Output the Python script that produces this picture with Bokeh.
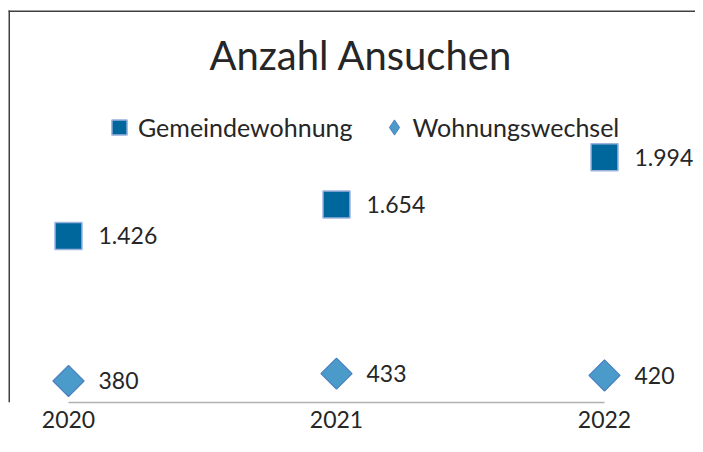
import numpy as np
from bokeh.plotting import figure
from bokeh.models import (ColumnDataSource, LabelSet, Label, Legend, LegendItem,
                          FixedTicker, Range1d)
from bokeh.core.properties import value
from bokeh.embed import file_html
from bokeh.resources import INLINE

# ---- data ----
years = [2020, 2021, 2022]
year_labels = ["2020", "2021", "2022"]
gemeindewohnung = [1426, 1654, 1994]
wohnungswechsel = [380, 433, 420]
series_names = ["Gemeindewohnung", "Wohnungswechsel"]
title_text = "Anzahl Ansuchen"

def de_fmt(v):
    return f"{v:,}".replace(",", ".")

FONT = "Lato"
TXT = "#262626"
W, H = 695, 436
FRAME_BOTTOM = 402            # canvas px of the axis line
PX_PER_UNIT = 0.1386
Y200_PX = 405.4               # canvas px where the value 200 would sit
Y_START = 200 + (Y200_PX - FRAME_BOTTOM) / PX_PER_UNIT
Y_END = 200 + Y200_PX / PX_PER_UNIT
X_SCALE = 268.0
X0 = 68
X_START = 2020 - X0 / X_SCALE
X_END = 2020 + (W - X0) / X_SCALE

def y_at(cy):
    return Y_START + (FRAME_BOTTOM - cy) / PX_PER_UNIT

def x_at(cx):
    return X_START + cx / X_SCALE

p = figure(width=W, height=H, output_backend="svg", toolbar_location=None,
           x_range=Range1d(X_START, X_END), y_range=Range1d(Y_START, Y_END),
           y_axis_location=None, min_border_left=0, min_border_right=0,
           min_border_top=0, min_border_bottom=H - FRAME_BOTTOM)
p.outline_line_color = None
p.xgrid.visible = False
p.ygrid.visible = False
p.background_fill_color = "white"
p.border_fill_color = "white"

ax = p.xaxis[0]
ax.ticker = FixedTicker(ticks=years)
ax.major_label_overrides = {y: l for y, l in zip(years, year_labels)}
ax.bounds = (years[0], years[-1])
ax.axis_line_color = "#b0b0b0"
ax.axis_line_width = 1.5
ax.major_tick_line_color = None
ax.minor_tick_line_color = None
ax.major_tick_out = 0
ax.major_tick_in = 0
ax.major_label_standoff = 8
ax.major_label_text_font = FONT
ax.major_label_text_font_size = "23px"
ax.major_label_text_color = TXT

# chart border (top and left edges of the chart area)
p.segment(x0=[x_at(8.75), x_at(8)], y0=[y_at(10), y_at(10.75)],
          x1=[x_at(8.75), x_at(W)], y1=[y_at(FRAME_BOTTOM), y_at(10.75)],
          line_color="#404040", line_width=1.5)

src_g = ColumnDataSource(dict(x=years, y=gemeindewohnung,
                              t=[de_fmt(v) for v in gemeindewohnung]))
src_w = ColumnDataSource(dict(x=years, y=wohnungswechsel,
                              t=[de_fmt(v) for v in wohnungswechsel]))

SQ_FILL, SQ_LINE = "#00679D", "#9DB3DE"
DI_FILL, DI_LINE = "#4A9BC9", "#4A7FC0"

r_g = p.scatter("x", "y", source=src_g, marker="square", size=27,
                fill_color=SQ_FILL, line_color=SQ_LINE, line_width=1.5)
# diamond glyph used for the legend entry (fully covered by the markers below)
r_w_leg = p.scatter("x", "y", source=src_w, marker="diamond", size=20,
                    fill_color=DI_FILL, line_color=DI_LINE, line_width=1)
r_w = p.scatter("x", "y", source=src_w, marker="square", angle=np.pi / 4,
                size=22, fill_color=DI_FILL, line_color=DI_LINE, line_width=1.2)

for src in (src_g, src_w):
    p.add_layout(LabelSet(x="x", y="y", text="t", source=src, x_offset=30,
                          text_baseline="middle", text_align="left",
                          text_font=value(FONT), text_font_size=value("23px"),
                          text_color=TXT))

p.add_layout(Label(x=x_at(360.5), y=y_at(54.5), text=title_text,
                   text_align="center", text_baseline="middle",
                   text_font=FONT, text_font_size="40px", text_color=TXT))

legend = Legend(items=[LegendItem(label=series_names[0], renderers=[r_g]),
                       LegendItem(label=series_names[1], renderers=[r_w_leg])],
                orientation="horizontal", location=(100, FRAME_BOTTOM - 146),
                glyph_width=38, glyph_height=38, label_standoff=0,
                spacing=22, padding=0, margin=0,
                border_line_color=None, background_fill_alpha=0,
                label_text_font=FONT, label_text_font_size="25px",
                label_text_color=TXT)
p.add_layout(legend)

open("out.html", "w").write(file_html(p, INLINE))
